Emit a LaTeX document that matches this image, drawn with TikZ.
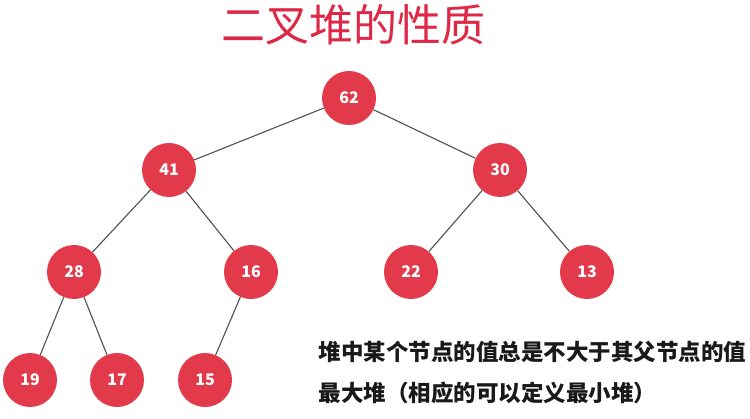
\documentclass[tikz,border=0pt]{standalone}
\usepackage{fontspec}
\newfontfamily\cjk{Noto Sans CJK SC}
\usetikzlibrary{positioning}
\definecolor{heapred}{RGB}{226,58,74}
\definecolor{titlered}{RGB}{222,40,70}
\definecolor{edgegray}{RGB}{80,80,80}
\tikzset{
  heapnode/.style={circle, fill=heapred, minimum size=54pt, inner sep=0pt, text=white, font=\cjk\bfseries\fontsize{16}{16}\selectfont},
  heapedge/.style={draw=edgegray, line width=1.1pt},
  note/.style={anchor=west, text=black!90, font=\cjk\bfseries\fontsize{22.5}{22.5}\selectfont}
}

\begin{document}
\begin{tikzpicture}[x=1pt, y=-1pt]
    % Canvas
    \useasboundingbox[fill=white] (0,0) rectangle (750,419);
    % Title
    \node[text=titlered, font=\cjk\fontsize{44}{44}\selectfont] (title) at (353,25) {二叉堆的性质};
    % Heap nodes
    \node[heapnode] (n62) at (349,98) {62};
    \node[heapnode] (n41) at (169,170) {41};
    \node[heapnode] (n30) at (500,170) {30};
    \node[heapnode] (n28) at (74,272) {28};
    \node[heapnode] (n16) at (251,272) {16};
    \node[heapnode] (n22) at (411,272) {22};
    \node[heapnode] (n13) at (587,272) {13};
    \node[heapnode] (n19) at (30,380) {19};
    \node[heapnode] (n17) at (117,380) {17};
    \node[heapnode] (n15) at (205,380) {15};
    % Edges
    \foreach \a/\b in {n62/n41, n62/n30, n41/n28, n41/n16, n30/n22, n30/n13, n28/n19, n28/n17, n16/n15}
        \draw[heapedge] (\a) -- (\b);
    % Notes
    \node[note] (rule) at (315,352) {堆中某个节点的值总是不大于其父节点的值};
    \node[note] (maxheap) at (315,393) {最大堆（相应的可以定义最小堆）};
\end{tikzpicture}
\end{document}
